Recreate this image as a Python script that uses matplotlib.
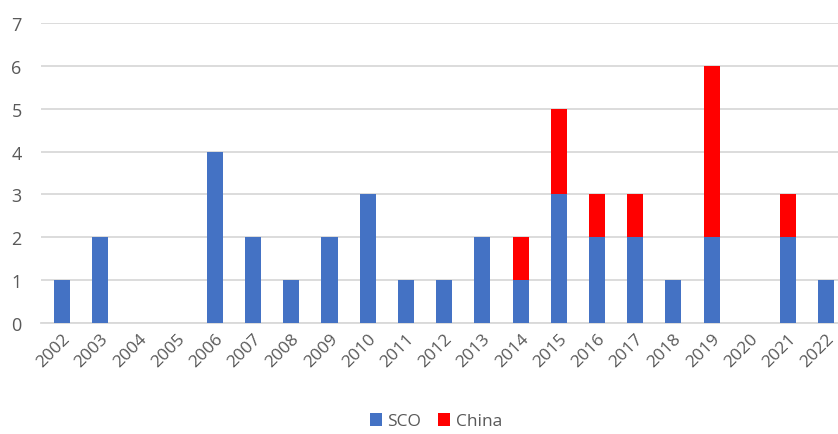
import matplotlib.pyplot as plt
import numpy as np

years = [str(y) for y in range(2002, 2023)]
sco = [1, 2, 0, 0, 4, 2, 1, 2, 3, 1, 1, 2, 1, 3, 2, 2, 1, 2, 0, 2, 1]
china = [0, 0, 0, 0, 0, 0, 0, 0, 0, 0, 0, 0, 1, 2, 1, 1, 0, 4, 0, 1, 0]

plt.rcParams['font.family'] = ['Open Sans', 'DejaVu Sans']

fig = plt.figure(figsize=(8.38, 4.35), dpi=100)
ax = fig.add_axes([0.049, 0.255, 0.951, 0.69])

x = np.arange(len(years))
ax.bar(x, sco, width=0.42, color='#4472C4', label='SCO', zorder=3)
ax.bar(x, china, width=0.42, bottom=sco, color='#FF0000', label='China', zorder=3)

ax.set_xlim(-0.55, 20.31)
ax.set_ylim(0, 7)
ax.set_yticks(range(0, 8))
ax.yaxis.grid(True, color='#D9D9D9', linewidth=1.3, zorder=0)
for s in ['top', 'right', 'left']:
    ax.spines[s].set_visible(False)
ax.spines['bottom'].set_color('#D9D9D9')
ax.spines['bottom'].set_linewidth(1.3)
ax.tick_params(length=0, colors='#595959')
ax.tick_params(axis='y', pad=14, labelsize=13)
ax.tick_params(axis='x', pad=5, labelsize=12.5)
ax.set_xticks(x)
ax.set_xticklabels(years, rotation=45, ha='right', rotation_mode='anchor')

fig.legend(loc='lower center', bbox_to_anchor=(0.52, -0.025), ncol=2, frameon=False,
           fontsize=12.5, handlelength=0.7, handleheight=0.8, columnspacing=1.0,
           handletextpad=0.3, labelcolor='#595959')

fig.savefig('out.png', dpi=100)
